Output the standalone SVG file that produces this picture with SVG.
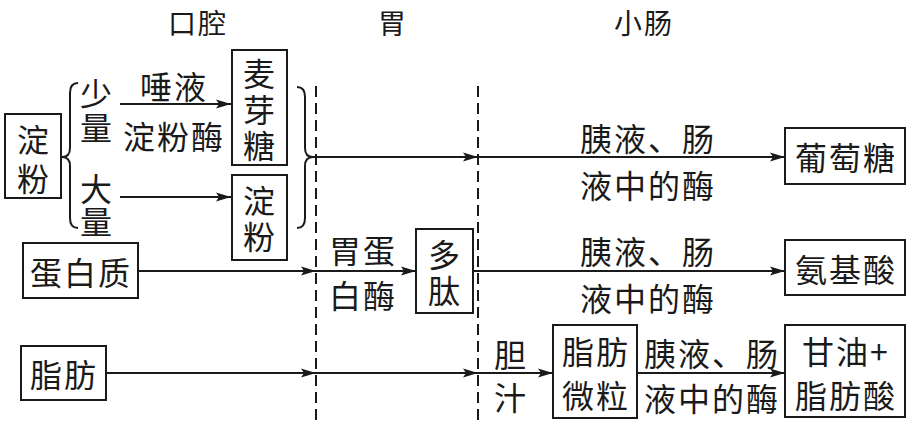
<svg xmlns="http://www.w3.org/2000/svg" width="913" height="422" viewBox="0 0 913 422">
<style>
text{font-family:"Noto Sans CJK SC","Noto Sans",sans-serif;font-size:32px;fill:#1a1a1a;text-anchor:middle;dominant-baseline:central;letter-spacing:2px}
.h{font-size:28px}
.box{fill:#fff;stroke:#1a1a1a;stroke-width:2}
.ln{fill:none;stroke:#1a1a1a;stroke-width:2}
.dash{fill:none;stroke:#1a1a1a;stroke-width:2;stroke-dasharray:11 6}
.brace{fill:none;stroke:#1a1a1a;stroke-width:2}
</style>
<defs>
<marker id="ah" markerUnits="userSpaceOnUse" markerWidth="16" markerHeight="10" refX="15" refY="5" orient="auto">
<path d="M0,0.5 L15,5 L0,9.5 L3,5 Z" fill="#1a1a1a"/>
</marker>
</defs>
<rect width="913" height="422" fill="#fff"/>
<g id="headers">
<text class="h" x="198" y="22">口腔</text>
<text class="h" x="393" y="22">胃</text>
<text class="h" x="644" y="22">小肠</text>
</g>
<g id="dividers">
<line class="dash" x1="316" y1="86" x2="316" y2="422"/>
<line class="dash" x1="478" y1="86" x2="478" y2="422"/>
</g>
<g id="connectors">
<line class="ln" x1="120" y1="104" x2="231" y2="104" marker-end="url(#ah)"/>
<line class="ln" x1="120" y1="197" x2="231" y2="197" marker-end="url(#ah)"/>
<line class="ln" x1="313" y1="157" x2="478" y2="157" marker-end="url(#ah)"/>
<line class="ln" x1="478" y1="157" x2="785" y2="157" marker-end="url(#ah)"/>
<line class="ln" x1="138" y1="271" x2="316" y2="271" marker-end="url(#ah)"/>
<line class="ln" x1="316" y1="271" x2="416" y2="271" marker-end="url(#ah)"/>
<line class="ln" x1="473" y1="271" x2="785" y2="271" marker-end="url(#ah)"/>
<line class="ln" x1="106" y1="373" x2="316" y2="373" marker-end="url(#ah)"/>
<line class="ln" x1="316" y1="373" x2="478" y2="373" marker-end="url(#ah)"/>
<line class="ln" x1="478" y1="373" x2="553" y2="373" marker-end="url(#ah)"/>
<line class="ln" x1="637" y1="373" x2="785" y2="373" marker-end="url(#ah)"/>
</g>
<g id="braces">
<path class="brace" d="M78,83 Q70,83 70,93 L70,148 Q70,157 62,157 Q70,157 70,166 L70,218 Q70,228 78,228"/>
<path class="brace" d="M297,87 Q305,87 305,97 L305,148 Q305,157 313,157 Q305,157 305,166 L305,218 Q305,228 297,228"/>
</g>
<g id="starch">
<rect class="box" x="5" y="114" width="56" height="84"/>
<text x="34" y="138">淀</text>
<text x="34" y="177">粉</text>
</g>
<g id="labels-starch">
<text x="97" y="92">少</text>
<text x="97" y="126">量</text>
<text x="97" y="187">大</text>
<text x="97" y="220">量</text>
<text x="174" y="85">唾液</text>
<text x="174" y="135">淀粉酶</text>
</g>
<g id="maltose">
<rect class="box" x="232" y="50" width="55" height="115"/>
<text x="260" y="72">麦</text>
<text x="260" y="108">芽</text>
<text x="260" y="144">糖</text>
</g>
<g id="starch2">
<rect class="box" x="232" y="175" width="55" height="85"/>
<text x="260" y="199">淀</text>
<text x="260" y="235">粉</text>
</g>
<g id="protein">
<rect class="box" x="23" y="243" width="115" height="55"/>
<text x="81" y="271">蛋白质</text>
</g>
<g id="fat">
<rect class="box" x="21" y="346" width="85" height="54"/>
<text x="64" y="373">脂肪</text>
</g>
<g id="pepsin-label">
<text x="363" y="249">胃蛋</text>
<text x="363" y="294">白酶</text>
</g>
<g id="polypeptide">
<rect class="box" x="416" y="229" width="57" height="84"/>
<text x="445" y="253">多</text>
<text x="445" y="289">肽</text>
</g>
<g id="bile-label">
<text x="511" y="353">胆</text>
<text x="511" y="396">汁</text>
</g>
<g id="fat-droplets">
<rect class="box" x="553" y="325" width="84" height="93"/>
<text x="596" y="350">脂肪</text>
<text x="596" y="394">微粒</text>
</g>
<g id="enzyme-labels">
<text x="648" y="137">胰液、肠</text>
<text x="648" y="184">液中的酶</text>
<text x="648" y="250">胰液、肠</text>
<text x="648" y="297">液中的酶</text>
<text x="712" y="352">胰液、肠</text>
<text x="712" y="397">液中的酶</text>
</g>
<g id="glucose">
<rect class="box" x="785" y="128" width="120" height="56"/>
<text x="846" y="156">葡萄糖</text>
</g>
<g id="amino-acid">
<rect class="box" x="785" y="240" width="120" height="55"/>
<text x="846" y="268">氨基酸</text>
</g>
<g id="glycerol">
<rect class="box" x="785" y="325" width="120" height="92"/>
<text x="846" y="350">甘油+</text>
<text x="846" y="394">脂肪酸</text>
</g>
</svg>
